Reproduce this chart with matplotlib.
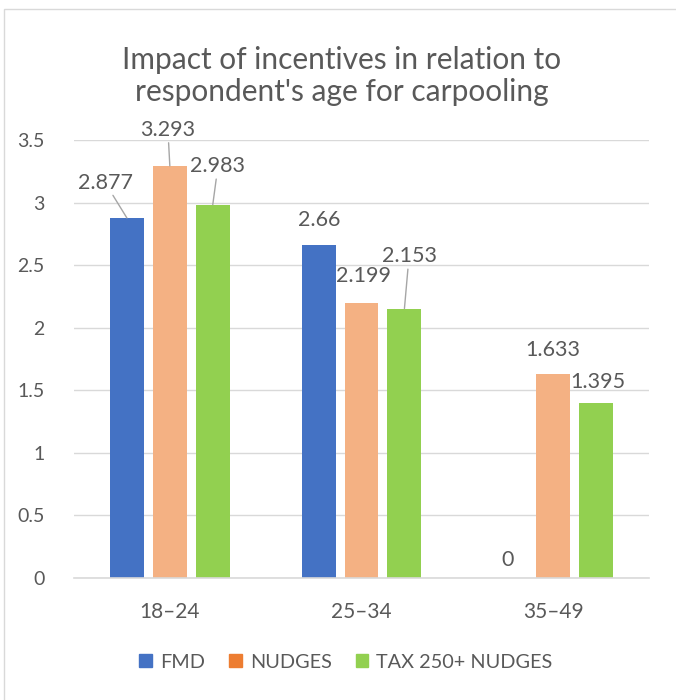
import matplotlib
matplotlib.use("Agg")
import matplotlib.pyplot as plt
from matplotlib.patches import Patch, Rectangle
import numpy as np

# data
ages = ["18–24", "25–34", "35–49"]
series = ["FMD", "NUDGES", "TAX 250+ NUDGES"]
fmd = [2.877, 2.66, 0]
nudges = [3.293, 2.199, 1.633]
tax = [2.983, 2.153, 1.395]

colors = ["#4472C4", "#F4B183", "#92D050"]
legend_colors = ["#4472C4", "#ED7D31", "#92D050"]
txt = "#595959"

# label placement (x offset from category, y) and whether a leader line is drawn
label_pos = [
    [(-0.338, 3.16, True), (-0.222, 2.86, False), (-0.236, 0.144, False)],
    [(-0.010, 3.58, True), (0.013, 2.41, False), (-0.001, 1.82, False)],
    [(0.251, 3.29, True), (0.248, 2.57, True), (0.233, 1.57, False)],
]

plt.rcParams['font.family'] = ['Lato', 'DejaVu Sans']

fig = plt.figure(figsize=(6.76, 7), dpi=100)
ax = fig.add_axes([74/676, 122/700, (649-74)/676, (578-140)/700])

x = np.arange(len(ages))
w = 0.177
offs = [-0.224, 0, 0.224]
for i, vals in enumerate([fmd, nudges, tax]):
    ax.bar(x + offs[i], vals, width=w, color=colors[i], zorder=3)
    for j, v in enumerate(vals):
        lx, ly, lead = label_pos[i][j]
        props = None
        if lead:
            props = dict(arrowstyle='-', color='#A6A6A6', lw=1, shrinkA=0, shrinkB=0)
        ax.annotate(f"{v:g}", xy=(x[j] + offs[i], v), xytext=(x[j] + lx, ly),
                    ha='center', va='center', fontsize=15.5, color=txt,
                    arrowprops=props, annotation_clip=False)

ax.set_xlim(-0.5, 2.5)
ax.set_ylim(0, 3.5)
ax.set_yticks(np.arange(0, 3.51, 0.5))
ax.set_yticklabels(["0", "0.5", "1", "1.5", "2", "2.5", "3", "3.5"])
ax.set_xticks(x)
ax.set_xticklabels(ages)
ax.tick_params(axis='both', length=0, labelcolor=txt)
ax.tick_params(axis='y', pad=21, labelsize=14)
ax.tick_params(axis='x', pad=17, labelsize=15)
ax.grid(axis='y', color='#D9D9D9', lw=1, zorder=0)
for s in ['top', 'right', 'left']:
    ax.spines[s].set_visible(False)
ax.spines['bottom'].set_color('#D9D9D9')
ax.spines['bottom'].set_linewidth(1.2)
ax.spines['bottom'].set_zorder(4)

fig.text(342/676, 1 - 76/700, "Impact of incentives in relation to\nrespondent's age for carpooling",
         ha='center', va='center', fontsize=21.5, color=txt, linespacing=1.2)

handles = [Patch(color=c) for c in legend_colors]
fig.legend(handles, series, loc='center', bbox_to_anchor=(346/676, 1 - 662/700), ncol=3,
           frameon=False, fontsize=14.3, labelcolor=txt, handlelength=0.65, handleheight=0.65,
           handletextpad=0.4, columnspacing=1.2)

fig.patches.append(Rectangle((4/676, -0.02), 1.0, 1 - 9/700 + 0.02, transform=fig.transFigure,
                             fill=False, edgecolor='#D9D9D9', lw=1))

fig.savefig("out.png", dpi=100)
